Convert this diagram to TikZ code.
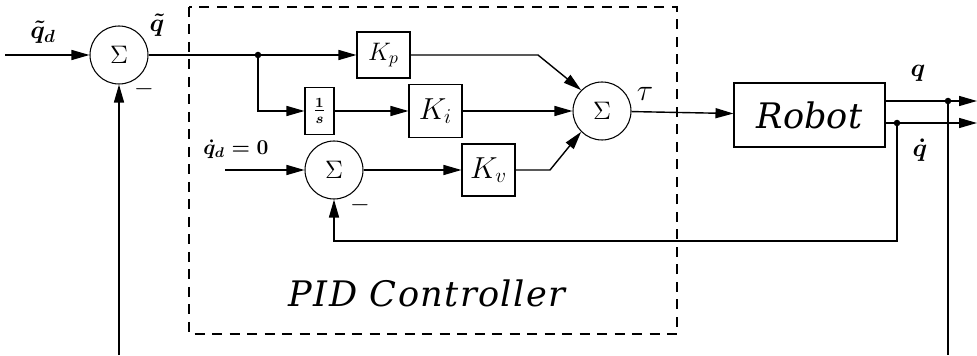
\documentclass[tikz,border=0pt]{standalone}
\usepackage{amsmath,amssymb}
\usepackage{fontspec}
\newfontfamily\labelfont{DejaVu Serif}
\newfontfamily\spacedfont[LetterSpace=4]{DejaVu Serif}
\usetikzlibrary{positioning,arrows.meta,calc}

\begin{document}
\begin{tikzpicture}[
  sumnode/.style={circle,draw,minimum size=1.16cm,inner sep=0pt,
                  line width=0.6pt,font=\Large},
  gbox/.style={rectangle,draw,minimum width=1.06cm,minimum height=1.04cm,
               inner sep=0pt,line width=0.6pt,font=\LARGE},
  plantbox/.style={rectangle,draw,minimum width=3.02cm,minimum height=1.28cm,
                   line width=0.6pt,font=\fontsize{20}{24}\selectfont\labelfont\itshape},
  sig/.style={font=\large,inner sep=1pt},
  arr/.style={-{Triangle[length=3.6mm,width=2mm]},line width=0.8pt},
  lin/.style={line width=0.8pt},
  jdot/.style={circle,fill,inner sep=0pt,minimum size=1.3mm},
  pidbox/.style={dashed,dash pattern=on 2mm off 1.5mm,line width=0.6pt},
  >=Stealth
]
\useasboundingbox (0,0) rectangle (19.54,7.10);
% controller frame
\coordinate (pidnw) at (3.78,6.96);
\coordinate (pidse) at (13.54,0.42);
\draw[pidbox] (pidnw) rectangle (pidse);
\node[font=\fontsize{20}{24}\selectfont\spacedfont\itshape] (pidlbl) at (8.54,1.24)
  {PID Controller};
% blocks
\node[sumnode] (s1) at (2.38,6.00) {$\Sigma$};
\node[sumnode] (s2) at (12.04,4.88) {$\Sigma$};
\node[sumnode] (s3) at (6.68,3.70) {$\Sigma$};
\node[gbox,font=\Large,minimum height=0.92cm] (Kp) at (7.67,6.00) {$K_p$};
\node[gbox,minimum width=0.58cm,minimum height=0.94cm,font=\large] (inv) at (6.39,4.88)
  {$\boldsymbol{\frac{1}{s}}$};
\node[gbox,minimum height=1.06cm] (Ki) at (8.71,4.88) {$K_i$};
\node[gbox] (Kv) at (9.77,3.70) {$K_v$};
\node[plantbox] (rob) at (16.19,4.80) {Robot};
% free ends and branch points
\coordinate (in) at (0.10,6.00);
\coordinate (qdin) at (4.50,3.70);
\coordinate (j1) at (5.16,6.00);
\coordinate (kpc) at (10.76,6.00);
\coordinate (kvc) at (11.00,3.70);
\coordinate (qj) at (18.96,5.08);
\coordinate (qdj) at (17.94,4.64);
\coordinate (qend) at (19.54,5.08);
\coordinate (qdend) at (19.54,4.64);
\coordinate (fbv) at (17.94,2.28);
\coordinate (fbl) at (2.38,0);
\coordinate (fbr) at (18.96,0);
% signal labels
\node[sig,font=\Large] (lqd) at (0.86,6.46) {$\boldsymbol{\tilde q_d}$};
\node[sig,font=\Large] (lqt) at (3.14,6.60) {$\boldsymbol{\tilde q}$};
\node[sig] (ldq) at (4.72,4.12) {$\boldsymbol{\dot q_d = 0}$};
\node[sig,font=\LARGE] (ltau) at (12.90,5.22) {$\tau$};
\node[sig,font=\Large] (lq) at (18.36,5.64) {$\boldsymbol{q}$};
\node[sig,font=\Large] (lqdot) at (18.40,4.10) {$\boldsymbol{\dot q}$};
\node[sig,font=\Large] (m1) at (2.88,5.32) {$-$};
\node[sig,font=\Large] (m3) at (7.20,3.00) {$-$};
% connections
\draw[arr] (in) -- (s1);
\draw[lin] (s1) -- (j1);
\draw[arr] (j1) -- (Kp);
\draw[arr] (j1) |- (inv);
\draw[arr] (inv) -- (Ki);
\draw[arr] (Ki) -- (s2);
\draw[arr] (Kp) -- (kpc) -- (s2.135);
\draw[arr] (qdin) -- (s3);
\draw[arr] (s3) -- (Kv);
\draw[arr] (Kv) -- (kvc) -- (s2.225);
\draw[arr] (s2) -- (rob);
\draw[arr] (rob.east |- qj) -- (qend);
\draw[arr] (rob.east |- qdj) -- (qdend);
\node[jdot] at (j1) {};
\node[jdot] at (qj) {};
\node[jdot] at (qdj) {};
% feedback
\draw[arr] (qdj) -- (fbv) -| (s3.south);
\draw[lin] (qj) -- (fbr);
\draw[arr] (fbl) -- (s1.south);
\end{tikzpicture}
\end{document}
